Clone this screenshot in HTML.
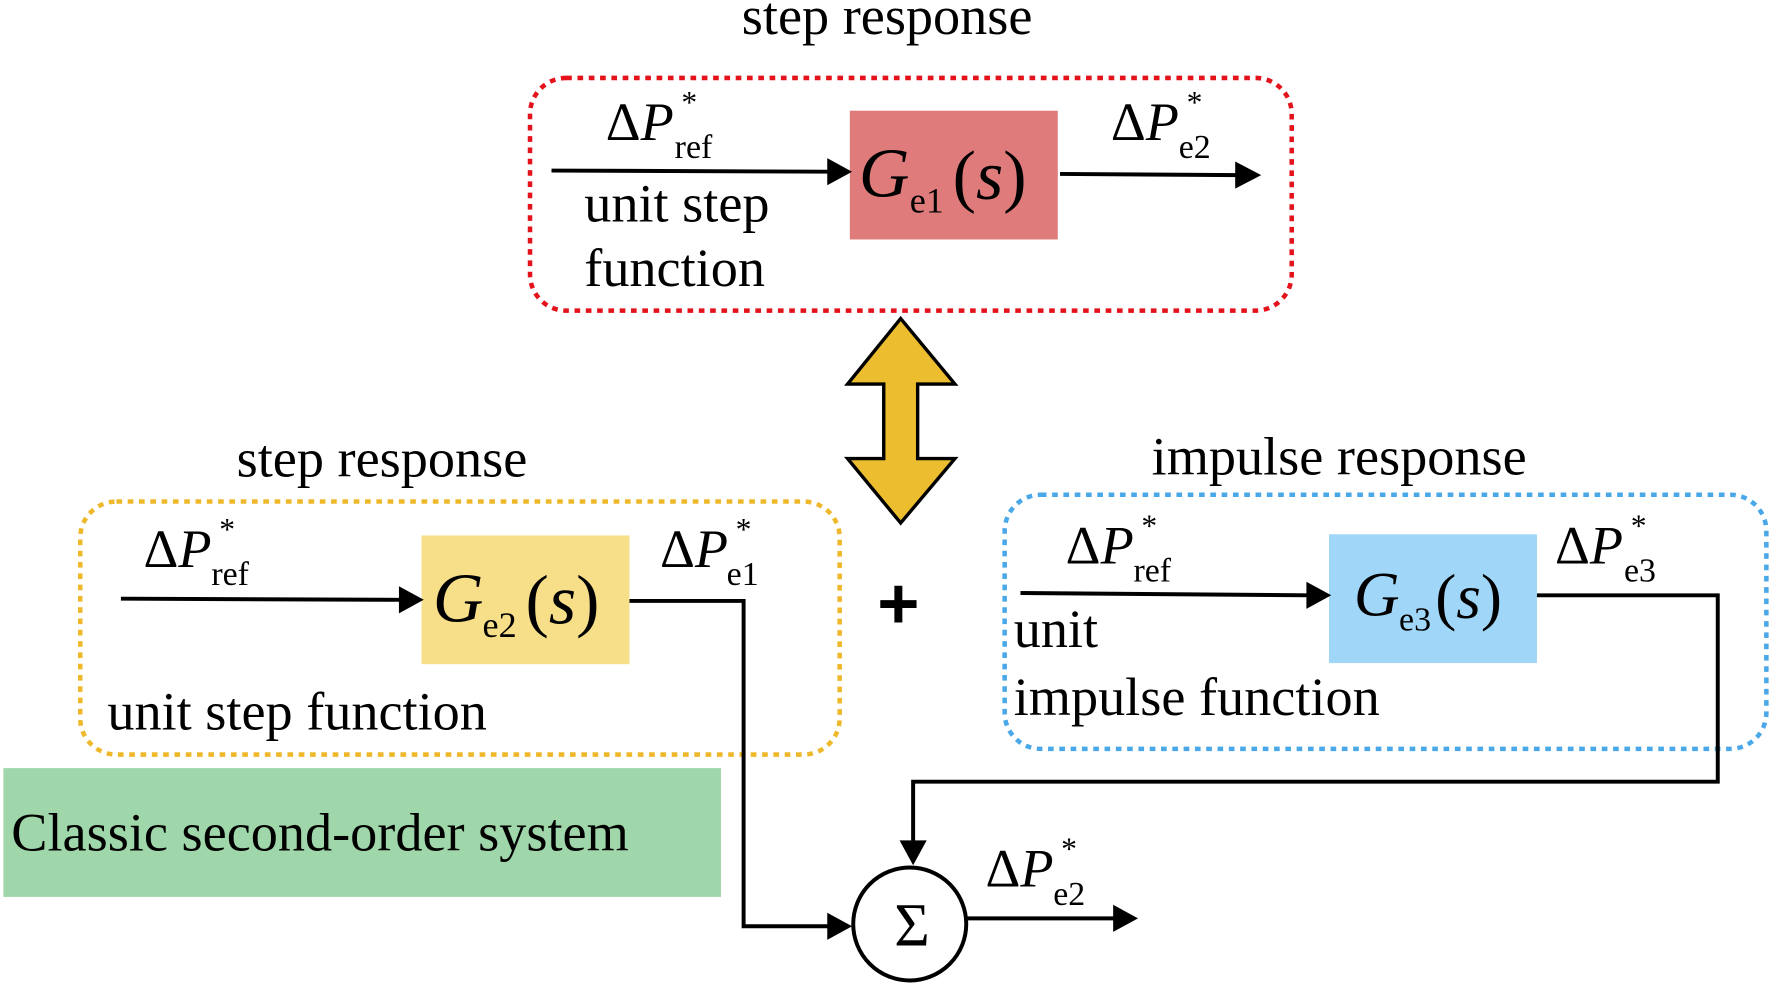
<!DOCTYPE html>
<html><head><meta charset="utf-8"><style>html,body{margin:0;padding:0;background:#fff}svg{display:block}</style></head>
<body>
<svg width="1772" height="985" viewBox="0 0 1568 872" preserveAspectRatio="none" xmlns="http://www.w3.org/2000/svg" style="font-family:'Liberation Serif',serif">
<style>
text{font-family:'Liberation Serif',serif}
.t{font-size:48px;fill:#000}
.ln{stroke:#000;stroke-width:3.5;fill:none}
.sub{font-size:30px}
.st{font-size:28px}
.it{font-style:italic}
</style>
<!-- top -->
<text x="785" y="30" class="t" text-anchor="middle">step response</text>
<rect x="469" y="69" width="674" height="206" rx="32" fill="none" stroke="#e3121b" stroke-width="4" stroke-dasharray="5,5"/>
<rect x="752" y="98" width="184" height="114" fill="#e07b7b"/>
<line x1="488" y1="151" x2="735" y2="152" class="ln"/>
<polygon points="732,140 754,152 732,164" fill="#000"/>
<line x1="938" y1="154" x2="1096" y2="155" class="ln"/>
<polygon points="1093,143 1116,155 1093,167" fill="#000"/>
<text x="536" y="124" class="t">Δ<tspan class="it">P</tspan></text>
<text x="603" y="100" class="st">*</text>
<text x="597" y="140" class="sub">ref</text>
<text x="983" y="124" class="t">Δ<tspan class="it">P</tspan></text>
<text x="1050" y="100" class="st">*</text>
<text x="1043" y="140" class="sub">e2</text>
<text x="760" y="174" class="it" style="font-size:62px">G</text>
<text x="805" y="188" style="font-size:32px">e1</text>
<text x="843" y="176" style="font-size:62px">(<tspan class="it">s</tspan>)</text>
<text x="517" y="196" class="t">unit step</text>
<text x="517" y="253" class="t">function</text>
<!-- double arrow -->
<polygon points="797,282 845,340 812,340 812,406 845,406 797,463 750,406 782,406 782,340 750,340" fill="#ecbd2f" stroke="#000" stroke-width="3"/>
<!-- left -->
<text x="338" y="422" class="t" text-anchor="middle">step response</text>
<rect x="71" y="444" width="672" height="224" rx="32" fill="none" stroke="#efb82a" stroke-width="4" stroke-dasharray="5,5"/>
<rect x="373" y="474" width="184" height="114" fill="#f7df8a"/>
<line x1="107" y1="530" x2="356" y2="531" class="ln"/>
<polygon points="353,519 375,531 353,543" fill="#000"/>
<polyline points="557,532 658,532 658,820 735,820" class="ln"/>
<polygon points="732,808 754,820 732,832" fill="#000"/>
<text x="127" y="502" class="t">Δ<tspan class="it">P</tspan></text>
<text x="194" y="478" class="st">*</text>
<text x="187" y="518" class="sub">ref</text>
<text x="584" y="502" class="t">Δ<tspan class="it">P</tspan></text>
<text x="651" y="478" class="st">*</text>
<text x="643" y="518" class="sub">e1</text>
<text x="383" y="550" class="it" style="font-size:62px">G</text>
<text x="427" y="564" style="font-size:32px">e2</text>
<text x="465" y="552" style="font-size:62px">(<tspan class="it">s</tspan>)</text>
<text x="95" y="646" class="t">unit step function</text>
<text x="795" y="556" text-anchor="middle" style="font-size:64px;font-weight:bold;font-family:'Liberation Sans',sans-serif">+</text>
<!-- right -->
<text x="1185" y="420" class="t" text-anchor="middle">impulse response</text>
<rect x="889" y="438" width="674" height="225" rx="32" fill="none" stroke="#4aa8e8" stroke-width="4" stroke-dasharray="5,5"/>
<rect x="1176" y="473" width="184" height="114" fill="#a0d6f7"/>
<line x1="903" y1="525" x2="1159" y2="527" class="ln"/>
<polygon points="1156,515 1178,527 1156,539" fill="#000"/>
<polyline points="1360,527 1520,527 1520,692 808,692 808,748" class="ln"/>
<polygon points="796,744 808,766 820,744" fill="#000"/>
<text x="943" y="499" class="t">Δ<tspan class="it">P</tspan></text>
<text x="1010" y="475" class="st">*</text>
<text x="1003" y="515" class="sub">ref</text>
<text x="1376" y="499" class="t">Δ<tspan class="it">P</tspan></text>
<text x="1443" y="475" class="st">*</text>
<text x="1437" y="515" class="sub">e3</text>
<text x="1198" y="545" class="it" style="font-size:56px">G</text>
<text x="1238" y="558" style="font-size:30px">e3</text>
<text x="1270" y="547" style="font-size:56px">(<tspan class="it">s</tspan>)</text>
<text x="897" y="573" class="t">unit</text>
<text x="897" y="633" class="t">impulse function</text>
<!-- green -->
<rect x="3" y="680" width="635" height="114" fill="#9fd7aa"/>
<text x="10" y="753" class="t" style="font-size:48px">Classic second-order system</text>
<!-- sum -->
<circle cx="805" cy="818" r="50" fill="#fff" stroke="#000" stroke-width="3.5"/>
<text x="807" y="837" text-anchor="middle" style="font-size:54px">Σ</text>
<line x1="856" y1="813" x2="988" y2="813" class="ln"/>
<polygon points="985,801 1007,813 985,825" fill="#000"/>
<text x="872" y="785" class="t">Δ<tspan class="it">P</tspan></text>
<text x="939" y="761" class="st">*</text>
<text x="932" y="801" class="sub">e2</text>
</svg>
</body></html>
